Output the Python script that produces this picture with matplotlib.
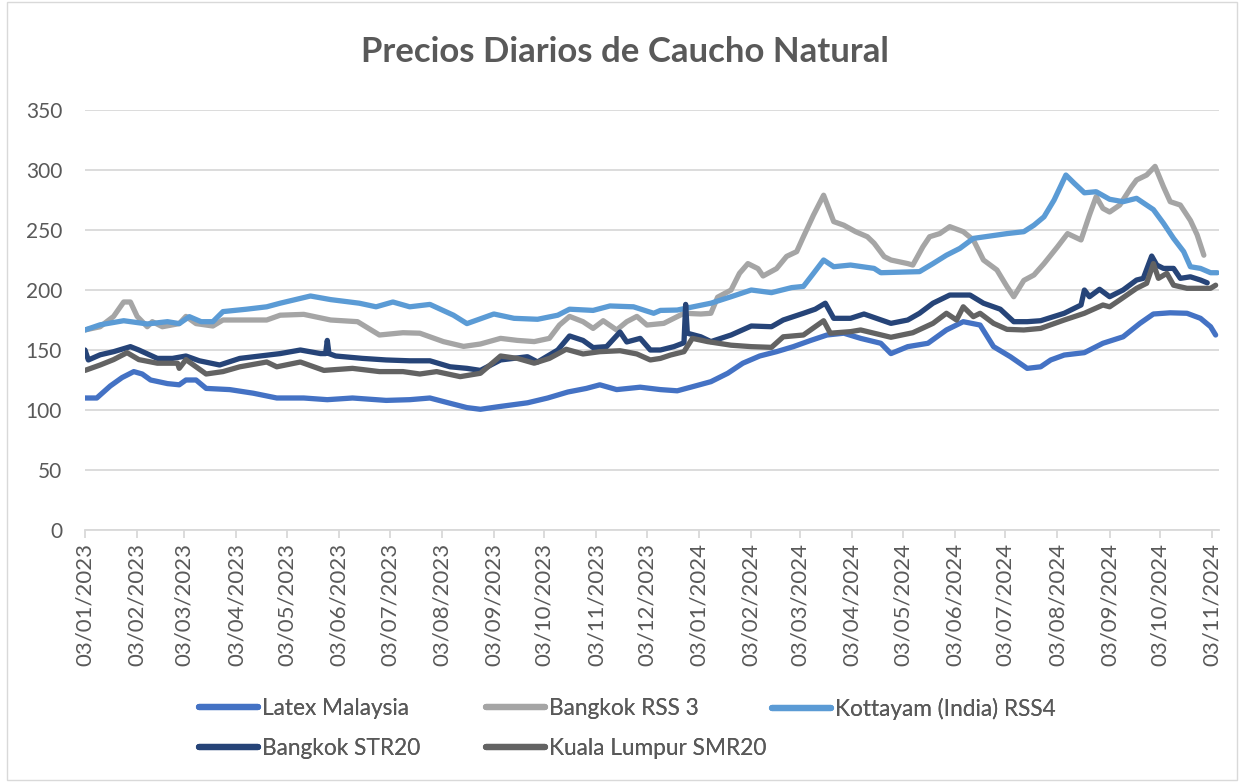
import numpy as np
import matplotlib
matplotlib.use("Agg")
import matplotlib.pyplot as plt
import matplotlib.dates as mdates
from matplotlib.lines import Line2D
from matplotlib.patches import Rectangle

plt.rcParams['font.family'] = ['Lato', 'DejaVu Sans']

start = np.datetime64('2023-01-03')

title = "Precios Diarios de Caucho Natural"
series_names = ["Latex Malaysia", "Bangkok RSS 3", "Kottayam (India) RSS4",
                "Bangkok STR20", "Kuala Lumpur SMR20"]
colors = ["#4472C4", "#A5A5A5", "#5B9BD5", "#264478", "#636363"]

# days since 03/01/2023 and values
latex_day = [0, 7, 15, 22, 29, 34, 39, 49, 56, 60, 66, 72, 86, 100, 114, 130, 144, 159, 179,
             193, 205, 217, 227, 235, 247, 263, 275, 287, 298, 306, 316, 330, 342, 352, 360,
             372, 382, 391, 401, 411, 421, 431, 441, 451, 461, 473, 479, 489, 501, 512, 522,
             532, 540, 550, 560, 568, 574, 582, 594, 605, 617, 627, 635, 645, 655, 663, 669, 672]
latex_val = [110, 110, 120, 127, 132, 130, 125, 122, 121, 125, 125, 118, 117, 114, 110, 110,
             108.6, 110, 108, 108.6, 110, 105.6, 102, 100.6, 103, 106, 110, 115, 118, 121, 117,
             119, 117, 116, 119, 123.6, 130.6, 139, 145, 148.6, 152.8, 157.8, 162.5, 164, 159.7,
             155.6, 147, 152.8, 155.6, 166.7, 173.6, 170.8, 152.8, 144.4, 134.7, 136, 141.7,
             145.8, 147.8, 155.6, 161, 172.2, 180, 181, 180.6, 176.4, 169.4, 162.5]

rss3_day = [0, 9, 17, 23, 27, 31, 37, 40, 46, 56, 60, 66, 76, 82, 96, 108, 116, 130, 146, 162,
            175, 189, 199, 213, 225, 235, 247, 257, 267, 276, 282, 288, 296, 302, 308, 316, 322,
            328, 334, 344, 356, 366, 372, 376, 384, 389, 394, 400, 403, 411, 417, 423, 427, 433,
            439, 445, 451, 458, 465, 469, 475, 479, 489, 492, 498, 502, 508, 514, 522, 528, 534,
            542, 548, 552, 558, 564, 570, 578, 584, 592, 597, 601, 605, 609, 615, 622, 625, 631,
            636, 641, 645, 651, 657, 661, 665]
rss3_val = [166.7, 169.4, 178, 190, 190, 178, 169.4, 173.6, 169.4, 172, 178, 172, 170, 175, 175,
            175, 179, 179.7, 175, 173.6, 162.5, 164.4, 164, 157, 153, 155, 159.7, 158, 157, 159.7,
            170.8, 178, 173.6, 168, 174.4, 166.7, 173.6, 178, 170.8, 172.2, 180.6, 180, 180.6,
            194, 200, 213.9, 222, 217.8, 211.7, 217.8, 228, 232, 244.4, 262.5, 279, 257, 254,
            248.6, 244.4, 239, 227.8, 225, 222, 220.8, 236, 244.4, 247, 252.8, 248.6, 241.7, 225,
            216.7, 202.8, 194.4, 208, 212.5, 222, 236, 247, 241.7, 262.5, 277.8, 268, 265, 270.8,
            286, 291.7, 295.8, 303, 286, 273.6, 270.8, 258, 246, 229]

kott_day = [0, 9, 23, 37, 49, 56, 62, 69, 76, 82, 96, 108, 116, 134, 146, 163, 173, 183, 193,
            205, 219, 227, 243, 255, 269, 281, 288, 302, 312, 326, 338, 342, 352, 372, 384, 396,
            408, 420, 427, 433, 439, 445, 455, 469, 473, 496, 504, 512, 520, 528, 538, 548, 558,
            564, 570, 576, 583, 588, 594, 601, 609, 617, 625, 635, 641, 647, 653, 657, 663, 669, 673]
kott_val = [166.7, 171, 174.4, 171.7, 173.6, 172, 177.8, 173.6, 173.6, 182, 184, 186, 189, 195,
            192, 189, 186, 190, 186, 188, 179, 172, 180, 176.4, 175.6, 179, 184, 183, 186.7, 186,
            180.6, 183, 183.3, 189, 194.4, 200, 197.8, 202, 203, 213.9, 225, 219.4, 220.8, 218,
            214.4, 215.3, 222, 229, 234.7, 243, 245, 247, 248.6, 254, 261, 275, 295.8, 288.9, 281,
            281.9, 275.6, 273.6, 276.4, 267, 255.6, 243, 232, 219.4, 218, 214.4, 214.4]

str20_day = [0, 2, 9, 17, 27, 32, 43, 52, 60, 68, 80, 92, 104, 116, 128, 140, 143, 144, 145,
             149, 165, 179, 193, 205, 217, 227, 235, 247, 263, 269, 281, 288, 296, 302, 310, 318,
             322, 330, 336, 342, 350, 356, 357, 358, 366, 372, 384, 396, 408, 415, 427, 434, 440,
             445, 455, 463, 479, 489, 496, 504, 514, 526, 534, 544, 552, 560, 568, 582, 592, 594,
             597, 603, 609, 617, 625, 629, 634, 637, 641, 647, 651, 657, 663, 667]
str20_val = [150, 141.7, 146, 148.6, 152.8, 150, 143, 143, 145, 141, 137.5, 143, 145, 147, 150,
             147, 147, 158, 147, 145, 143, 141.7, 141, 141, 136, 134.7, 133, 141.7, 144.4, 140,
             150, 161.7, 158, 152, 152.8, 165, 156.7, 159.7, 150, 150, 152.8, 156, 188, 164, 161,
             157, 162.5, 170, 169.4, 175, 180.6, 184, 189, 176.4, 176.4, 180, 172.2, 175, 180.6,
             189, 195.8, 195.8, 189, 184, 173.6, 173.6, 174.4, 180.6, 187.5, 200, 194.4, 200.6,
             194.4, 200, 208.3, 209.7, 228.3, 220.8, 218, 218, 209.7, 211, 208.3, 206]

smr20_day = [0, 9, 17, 25, 32, 43, 55, 56, 60, 66, 72, 82, 92, 108, 114, 128, 142, 159, 175,
             189, 199, 209, 223, 235, 247, 257, 267, 276, 286, 296, 306, 318, 328, 336, 342, 348,
             356, 361, 370, 384, 396, 408, 415, 427, 439, 443, 455, 461, 479, 492, 504, 512, 518,
             522, 528, 532, 540, 548, 558, 568, 582, 594, 605, 609, 615, 625, 631, 635, 638, 643,
             647, 655, 663, 669, 672]
smr20_val = [133, 137.5, 142, 147.8, 142, 139, 139, 134.7, 142, 136, 130, 132, 136, 140, 136,
             140, 133, 134.7, 132, 132, 130, 132, 127.8, 130.6, 145, 143, 139, 143, 150.6, 146.7,
             148.6, 149.4, 146.7, 141.7, 143, 145.8, 148.6, 159.7, 157, 154, 152.8, 152.2, 161,
             162.5, 174.4, 164, 165.3, 166.7, 160.6, 164.4, 172.2, 180.6, 175, 186, 177.8, 180.6,
             172.2, 167.2, 166.7, 168, 175, 180.6, 187.5, 186, 191.7, 201.4, 205.6, 222, 209.7,
             213.9, 204, 201.4, 201.4, 201.4, 204]

all_days = [latex_day, rss3_day, kott_day, str20_day, smr20_day]
all_vals = [latex_val, rss3_val, kott_val, str20_val, smr20_val]

W, H = 1239, 782
fig = plt.figure(figsize=(W / 100, H / 100), dpi=100)
fig.patch.set_facecolor("white")
fig.add_artist(Rectangle((7 / W, 2 / H), 1 - 9 / W, 1 - 4 / H, transform=fig.transFigure,
                         fill=False, edgecolor="#D9D9D9", linewidth=1))

ax = fig.add_axes([85 / W, 1 - 530 / H, (1219 - 85) / W, 420 / H])

for name, c, d, v in zip(series_names, colors, all_days, all_vals):
    x = start + np.array(d, dtype='timedelta64[D]')
    ax.plot(x.astype('datetime64[D]').astype(object), v, color=c, lw=3.8,
            solid_capstyle='round', solid_joinstyle='round', label=name)

ax.set_ylim(0, 350)
ax.set_yticks(np.arange(0, 351, 50))
ax.set_xlim(mdates.date2num(np.datetime64('2023-01-03')),
            mdates.date2num(np.datetime64('2023-01-03') + np.timedelta64(674, 'D')))
ax.xaxis.set_major_locator(mdates.MonthLocator(bymonthday=3))
ax.xaxis.set_major_formatter(mdates.DateFormatter('%d/%m/%Y'))
ax.grid(axis='y', color='#D9D9D9', linewidth=1.3)
ax.set_axisbelow(True)
for s in ['top', 'right', 'left']:
    ax.spines[s].set_visible(False)
ax.spines['bottom'].set_color('#D9D9D9')
ax.spines['bottom'].set_linewidth(1.3)
ax.tick_params(axis='y', length=0, labelsize=15, labelcolor='#595959', pad=16.5)
ax.tick_params(axis='x', length=6, color='#D9D9D9', width=1.3, labelsize=16,
               labelcolor='#595959', rotation=90, pad=3)

fig.text(625 / W, 1 - 52 / H, title, ha='center', va='center', fontsize=25,
         fontweight='bold', color='#595959')

# legend: three columns placed like the original
cols = [[0, 3], [1, 4], [2]]
col_x = [199, 486, 772]
for ci, idxs in enumerate(cols):
    lg = fig.legend([Line2D([], [], color=colors[i], lw=4.5, solid_capstyle='round') for i in idxs],
                    [series_names[i] for i in idxs], loc='upper left',
                    bbox_to_anchor=(col_x[ci] / W, 1 - 698 / H), frameon=False,
                    fontsize=16.3, labelcolor='#595959', handlelength=2.6, handletextpad=0.2,
                    labelspacing=0.85, borderpad=0, borderaxespad=0)
    fig.add_artist(lg)

fig.savefig("out.png", dpi=100, facecolor="white")
